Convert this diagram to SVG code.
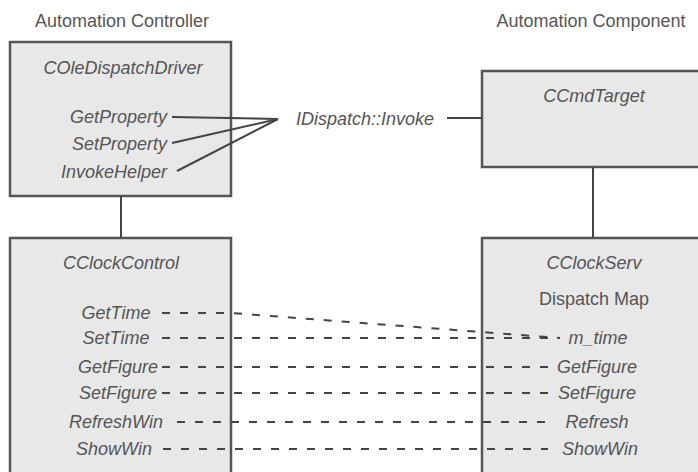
<svg xmlns="http://www.w3.org/2000/svg" width="698" height="472" viewBox="0 0 698 472">
<style>
.t{font-family:"Liberation Sans",Arial,sans-serif;font-size:18px;fill:#555;}
.i{font-style:italic;}
.m{text-anchor:middle;}
.e{text-anchor:end;}
.box{fill:#e8e8e8;stroke:#555;stroke-width:2.5;}
.ln{stroke:#444;stroke-width:2;fill:none;}
.ds{stroke:#444;stroke-width:2;fill:none;stroke-dasharray:8 10;}
</style>
<rect width="698" height="472" fill="#fff"/>
<text class="t m" x="122" y="27">Automation Controller</text>
<text class="t m" x="591" y="27">Automation Component</text>

<g id="COleDispatchDriver">
<rect class="box" x="10" y="42" width="221" height="154"/>
<text class="t i m" x="123" y="74">COleDispatchDriver</text>
<text class="t i e" x="167" y="123">GetProperty</text>
<text class="t i e" x="167" y="150">SetProperty</text>
<text class="t i e" x="167" y="178">InvokeHelper</text>
</g>

<g id="CCmdTarget">
<rect class="box" x="482" y="71" width="230" height="96"/>
<text class="t i m" x="594" y="102">CCmdTarget</text>
</g>

<g id="CClockControl">
<rect class="box" x="10" y="238" width="221" height="250"/>
<text class="t i m" x="121" y="269">CClockControl</text>
<text class="t i m" x="116" y="319">GetTime</text>
<text class="t i m" x="116" y="344">SetTime</text>
<text class="t i m" x="118" y="373">GetFigure</text>
<text class="t i m" x="118" y="399">SetFigure</text>
<text class="t i m" x="116" y="428">RefreshWin</text>
<text class="t i m" x="114" y="455">ShowWin</text>
</g>

<g id="CClockServ">
<rect class="box" x="482" y="238" width="230" height="250"/>
<text class="t i m" x="594" y="269">CClockServ</text>
<text class="t m" x="594" y="305">Dispatch Map</text>
<text class="t i m" x="598" y="344">m_time</text>
<text class="t i m" x="597" y="373">GetFigure</text>
<text class="t i m" x="597" y="399">SetFigure</text>
<text class="t i m" x="597" y="428">Refresh</text>
<text class="t i m" x="600" y="455">ShowWin</text>
</g>

<g id="idispatch">
<text class="t i m" x="365" y="125">IDispatch::Invoke</text>
</g>

<g id="connectors">
<line class="ln" x1="121" y1="196" x2="121" y2="238"/>
<line class="ln" x1="593" y1="167" x2="593" y2="238"/>
<line class="ln" x1="447" y1="118" x2="482" y2="118"/>
<line class="ln" x1="172" y1="117" x2="278" y2="119"/>
<line class="ln" x1="172" y1="143" x2="278" y2="119"/>
<line class="ln" x1="177" y1="171" x2="278" y2="119"/>
<polyline class="ds" points="162,313 231,313 560,338"/>
<line class="ds" x1="162" y1="338" x2="560" y2="338"/>
<line class="ds" x1="162" y1="367" x2="548" y2="367"/>
<line class="ds" x1="162" y1="393" x2="548" y2="393"/>
<line class="ds" x1="177" y1="422" x2="555" y2="422"/>
<line class="ds" x1="163" y1="449" x2="548" y2="449"/>
</g>
</svg>
